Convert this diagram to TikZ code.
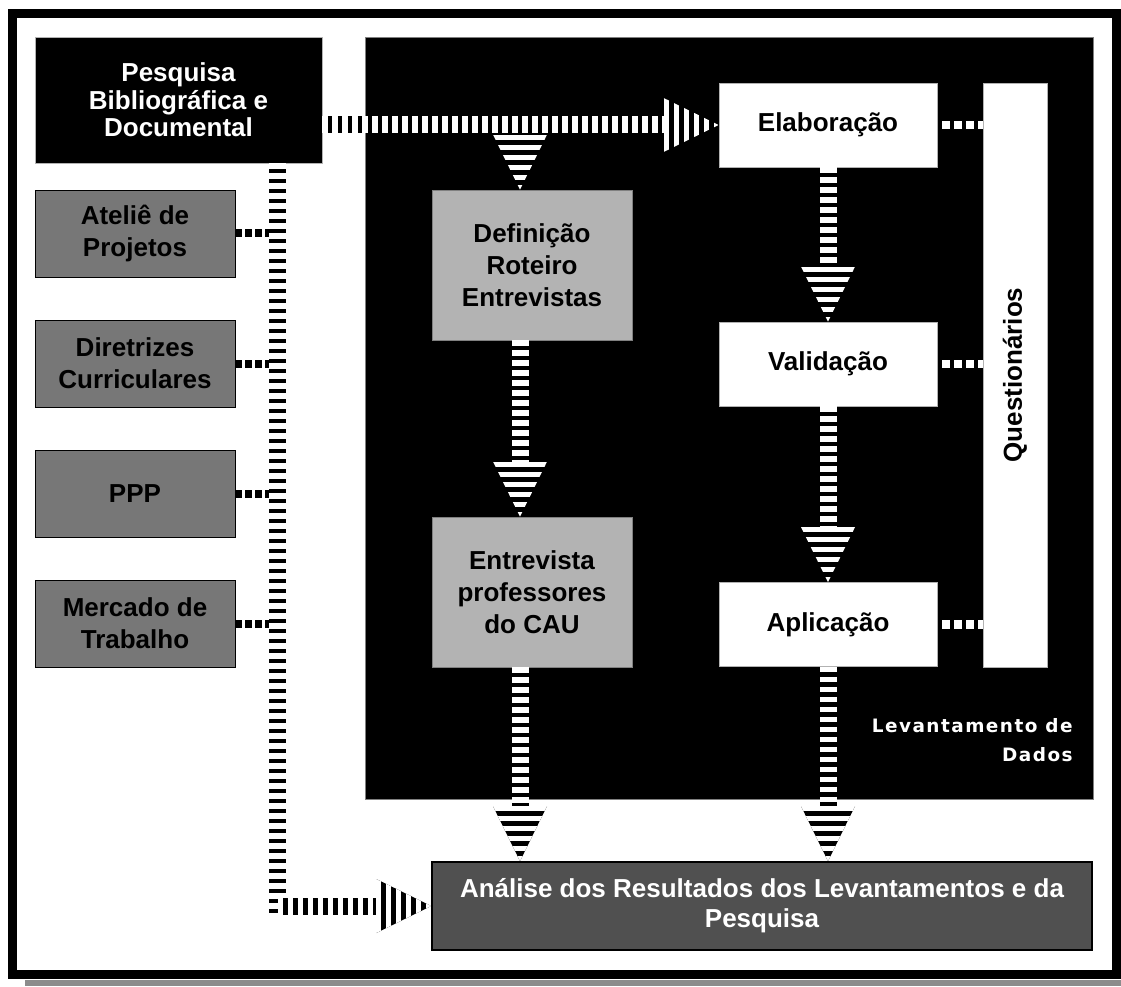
\documentclass[tikz,border=0pt]{standalone}
\usepackage{fontspec}
\setmainfont{Liberation Sans}
\newfontfamily\levfont[LetterSpace=8]{DejaVu Sans Bold}
\usetikzlibrary{calc}

\definecolor{boxgray}{HTML}{777777}
\definecolor{lightbox}{HTML}{B3B3B3}
\definecolor{darkbox}{HTML}{505050}
\definecolor{shadowgray}{HTML}{8C8C8C}

\newcommand{\boxfont}{\fontsize{14.8}{15.6}\selectfont\bfseries}
\newcommand{\looseboxfont}{\fontsize{14.8}{18.2}\selectfont\bfseries}

\newcommand{\stripearrow}[2]{%
  \coordinate (hb) at ($(#2)!1.1cm!(#1)$);
  \draw[shaftb] (#1) -- (hb);
  \draw[shaftw] (#1) -- (hb);
  \begin{scope}
    \clip ($(hb)!0.54cm!90:(#2)$) -- ($(hb)!0.54cm!-90:(#2)$) -- (#2) -- cycle;
    \draw[headb] (hb) -- (#2);
    \draw[headw] (hb) -- (#2);
  \end{scope}}

\begin{document}
\begin{tikzpicture}[x=0.02cm, y=-0.02cm,
    pbox/.style={draw=gray!60, fill=black, text=white, minimum width=5.74cm,
                 minimum height=2.52cm, align=center, inner sep=0pt, font=\boxfont},
    gbox/.style={draw=black, fill=boxgray, minimum width=4cm, minimum height=1.74cm,
                 align=center, inner sep=0pt, font=\looseboxfont},
    lbox/.style={draw=gray, fill=lightbox, minimum width=4cm, minimum height=3cm,
                 align=center, inner sep=0pt, font=\looseboxfont},
    wbox/.style={draw=gray!60, fill=white, minimum width=4.36cm, minimum height=1.68cm,
                 align=center, inner sep=0pt, font=\boxfont},
    abox/.style={draw=black, line width=1pt, fill=darkbox, text=white, minimum width=13.2cm,
                 minimum height=1.76cm, align=center, inner sep=0pt,
                 font=\fontsize{14.8}{17}\selectfont\bfseries},
    blk/.style={draw=gray, fill=black, minimum width=14.56cm, minimum height=15.24cm, inner sep=0pt},
    levlbl/.style={text=white, align=right, inner sep=0pt,
                   font=\levfont\fontsize{10.5}{16.4}\selectfont},
    shaftb/.style={line width=0.34cm, black},
    shaftw/.style={line width=0.34cm, white, dash pattern=on 0.11cm off 0.09cm},
    headb/.style={line width=1.1cm, black},
    headw/.style={line width=1.1cm, white, dash pattern=on 0.1cm off 0.1cm},
    bdots/.style={line width=0.16cm, black, dash pattern=on 0.13cm off 0.07cm},
    wdots/.style={line width=0.17cm, white, dash pattern=on 0.15cm off 0.09cm},
  ]
  \useasboundingbox (0,0) rectangle (1121,986);
  \fill[shadowgray] (25,980) rectangle (1121,986);
  \draw[line width=0.18cm] (12.5,13.5) rectangle (1116.5,974.5);

  \node[blk] (levbg) at (729,418) {};
  \node[levlbl, anchor=east] (levlabel) at (1073,740) {Levantamento de\\Dados};

  \node[pbox] (pesq) at (178.5,100) {Pesquisa\\Bibliográfica e\\Documental};
  \node[gbox] (atel) at (135,233.5) {Ateliê de\\Projetos};
  \node[gbox] (dir) at (135,363.5) {Diretrizes\\Curriculares};
  \node[gbox] (ppp) at (135,493.5) {PPP};
  \node[gbox] (merc) at (135,623.5) {Mercado de\\Trabalho};

  \node[lbox] (def) at (532,265) {Definição\\Roteiro\\Entrevistas};
  \node[lbox] (entr) at (532,592) {Entrevista\\professores\\do CAU};

  \node[wbox] (elab) at (828,125) {Elaboração};
  \node[wbox] (val) at (828,364) {Validação};
  \node[wbox] (apl) at (828,624.5) {Aplicação};
  \node[draw=gray!60, fill=white, rotate=90, minimum width=11.68cm, minimum height=1.28cm,
        inner sep=0pt, font=\boxfont] (quest) at (1015,375) {Questionários};

  \node[abox] (anal) at (762,906) {Análise dos Resultados dos Levantamentos e da\\Pesquisa};

  \coordinate (ltop) at ([xshift=1.99cm]pesq.south);
  \coordinate (lcorner) at (ltop |- anal.west);
  \coordinate (defin) at ([xshift=-0.24cm]def.north);
  \coordinate (defout) at ([xshift=-0.24cm]def.south);
  \coordinate (entrin) at ([xshift=-0.24cm]entr.north);
  \coordinate (entrout) at ([xshift=-0.24cm]entr.south);

  \draw[bdots] (atel.east) -- (atel.east -| ltop);
  \draw[bdots] (dir.east) -- (dir.east -| ltop);
  \draw[bdots] (ppp.east) -- (ppp.east -| ltop);
  \draw[bdots] (merc.east) -- (merc.east -| ltop);
  \draw[wdots] ([xshift=0.1cm]elab.east) -- (elab.east -| quest.north);
  \draw[wdots] ([xshift=0.1cm]val.east) -- (val.east -| quest.north);
  \draw[wdots] ([xshift=0.1cm]apl.east) -- (apl.east -| quest.north);

  \draw[shaftb] (ltop) -- ([yshift=-0.17cm]lcorner);
  \draw[shaftw] (ltop) -- ([yshift=-0.17cm]lcorner);
  \stripearrow{lcorner}{anal.west}

  \stripearrow{defin |- elab.west}{defin}
  \stripearrow{pesq.east |- elab.west}{elab.west}
  \stripearrow{elab.south}{val.north}
  \stripearrow{val.south}{apl.north}
  \stripearrow{defout}{entrin}
  \stripearrow{entrout}{entrout |- anal.north}
  \stripearrow{apl.south}{apl.south |- anal.north}
\end{tikzpicture}
\end{document}
